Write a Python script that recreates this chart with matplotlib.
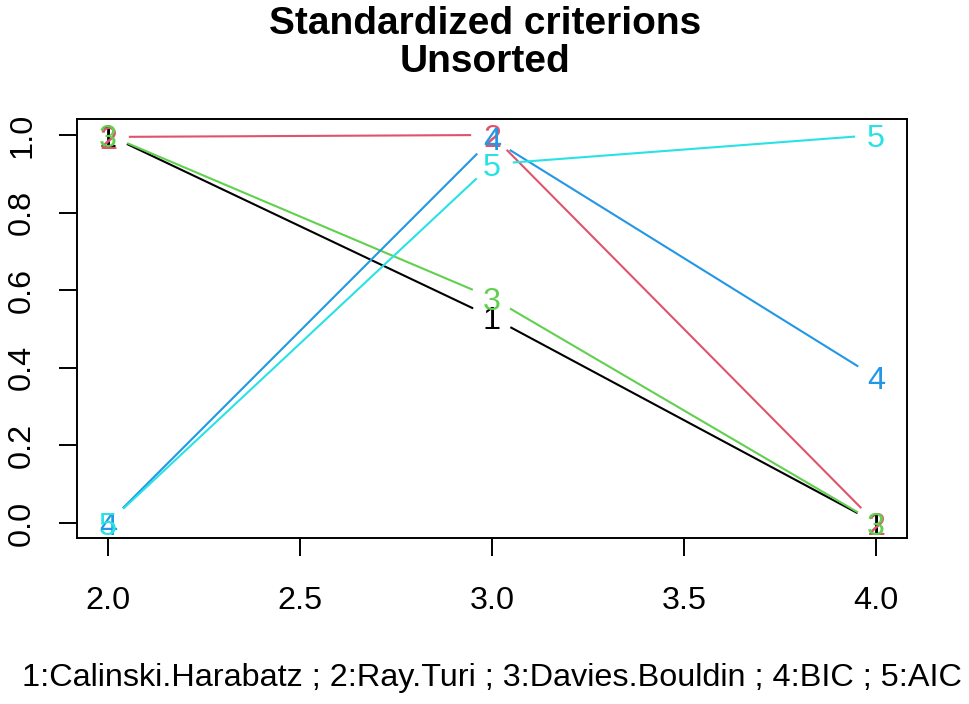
import numpy as np
import matplotlib
matplotlib.use("Agg")
import matplotlib.pyplot as plt
from matplotlib import transforms

plt.rcParams['font.family'] = ['Liberation Sans', 'DejaVu Sans']

# -----------------------------------------------
# Datos: criterios estandarizados por numero de grupos
# -----------------------------------------------
k_grupos = [2, 3, 4]
calinski = [1.0, 0.53, 0.0]
ray_turi = [0.995, 1.0, 0.0]
davies   = [1.0, 0.58, 0.0]
bic      = [0.0, 0.99, 0.375]
aic      = [0.0, 0.925, 1.0]

series   = [calinski, ray_turi, davies, bic, aic]
etiquetas = ['1', '2', '3', '4', '5']
colores  = ['#000000', '#DF536B', '#61D04F', '#2297E6', '#28E2E5']

xticks = [2.0, 2.5, 3.0, 3.5, 4.0]
yticks = [0.0, 0.2, 0.4, 0.6, 0.8, 1.0]

fs = 23.3        # tamaño base (cex = 1)
gap_pt = 15      # hueco de type = "b" alrededor de cada numero

fig = plt.figure(figsize=(9.7, 7.04), dpi=100)
ax = fig.add_axes([0.0797, 0.2351, 0.855, 0.5952])
ax.set_xlim(1.92, 4.08)
ax.set_ylim(-0.04, 1.04)

gap_px = gap_pt * fig.dpi / 72.0
baja = transforms.offset_copy(ax.transData, fig=fig, y=-0.358 * fs, units='points')

for i, (vals, lab, col) in enumerate(zip(series, etiquetas, colores)):
    pts = ax.transData.transform(np.column_stack([k_grupos, vals]))
    for a, b in zip(pts[:-1], pts[1:]):
        d = b - a
        dist = np.hypot(*d)
        if dist <= 2 * gap_px:
            continue
        u = d / dist
        seg = ax.transData.inverted().transform([a + u * gap_px, b - u * gap_px])
        ax.plot(seg[:, 0], seg[:, 1], color=col, lw=1.5, zorder=2 + i,
                solid_capstyle='butt')
    for xv, yv in zip(k_grupos, vals):
        ax.text(xv, yv, lab, color=col, fontsize=fs, ha='center', va='baseline',
                transform=baja, zorder=2 + i)

ax.set_xticks(xticks)
ax.set_xticklabels([f'{t:.1f}' for t in xticks])
ax.set_yticks(yticks)
ax.set_yticklabels([f'{t:.1f}' for t in yticks], rotation=90, va='center')
ax.tick_params(direction='out', length=13, width=1.4, labelsize=fs)
ax.tick_params(axis='x', pad=21)
ax.tick_params(axis='y', pad=16)
for s in ax.spines.values():
    s.set_linewidth(1.4)

ax.set_xlabel('1:Calinski.Harabatz ; 2:Ray.Turi ; 3:Davies.Bouldin ; 4:BIC ; 5:AIC',
              fontsize=fs, labelpad=34)

fig.text(0.5, 1 - 34 / 704, 'Standardized criterions', ha='center', va='baseline',
         fontsize=fs * 1.2, fontweight='bold')
fig.text(0.5, 1 - 72 / 704, 'Unsorted', ha='center', va='baseline',
         fontsize=fs * 1.2, fontweight='bold')

fig.savefig('out.png', dpi=100)
